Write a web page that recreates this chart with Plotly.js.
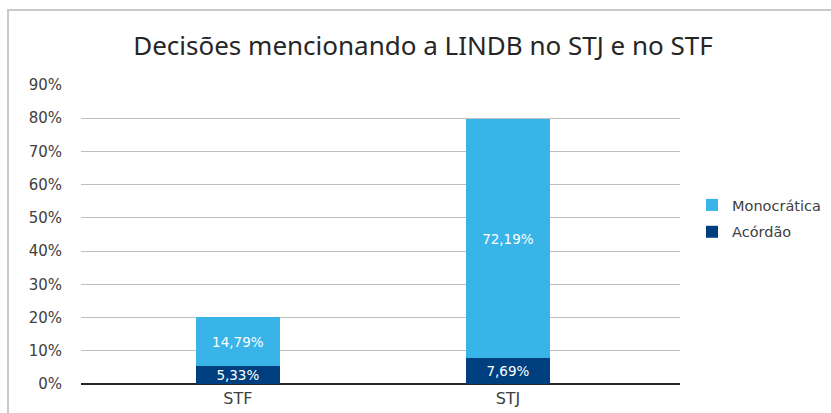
<!DOCTYPE html>
<html>
<head>
<meta charset="utf-8">
<script src="https://cdn.plot.ly/plotly-3.0.1.min.js"></script>
<style>
html,body{margin:0;padding:0;background:#fff;overflow:hidden;}
#wrap{position:relative;width:831px;height:413px;}
#frame{position:absolute;left:7px;top:9px;width:840px;height:420px;border-left:2px solid #c9c9c9;border-top:2px solid #c9c9c9;box-sizing:border-box;pointer-events:none;z-index:5;}
#chart{position:absolute;left:0;top:0;width:831px;height:413px;}
</style>
</head>
<body>
<div id="wrap">
<div id="chart"></div>
<div id="frame"></div>
</div>
<script>
const categories = ['STF', 'STJ'];
const acordao = [5.33, 7.69];
const monocratica = [14.79, 72.19];
const yTicks = [0, 10, 20, 30, 40, 50, 60, 70, 80, 90];

const fmt = v => v.toFixed(2).replace('.', ',') + '%';
const FONT = 'DejaVu Sans, sans-serif';
const TFONT = 'Noto Sans, sans-serif';

const traces = [
  {
    type: 'bar', name: 'Acórdão', x: categories, y: acordao,
    marker: {color: '#003f7f'}, width: 0.311,
    text: acordao.map(fmt), textposition: 'inside', insidetextanchor: 'middle',
    textfont: {color: '#ffffff', size: 13.5, family: FONT}, constraintext: 'none',
    hoverinfo: 'none', legendgroup: 'a', legendrank: 2
  },
  {
    type: 'bar', name: 'Monocrática', x: categories, y: monocratica,
    marker: {color: '#38b4e8'}, width: 0.311,
    text: monocratica.map(fmt), textposition: 'inside', insidetextanchor: 'middle',
    textfont: {color: '#ffffff', size: 13.5, family: FONT}, constraintext: 'none',
    hoverinfo: 'none', legendgroup: 'm', legendrank: 1
  }
];

const layout = {
  width: 831, height: 413,
  margin: {l: 81, r: 151, t: 85, b: 29, pad: 0, autoexpand: false},
  paper_bgcolor: '#ffffff', plot_bgcolor: '#ffffff',
  barmode: 'stack',
  font: {family: FONT, color: '#404040', size: 14},
  title: {
    text: 'Decisões mencionando a LINDB no STJ e no STF',
    font: {family: TFONT, size: 26, color: '#262626'},
    x: 0.509, xref: 'container', xanchor: 'center',
    y: 1 - 46/413, yref: 'container', yanchor: 'middle'
  },
  xaxis: {
    type: 'category', range: [-0.581, 1.637],
    showgrid: false, zeroline: false, showline: false, ticks: '',
    ticklabelstandoff: 3,
    tickfont: {family: FONT, size: 16, color: '#404040'}, fixedrange: true
  },
  yaxis: {
    range: [0, 90], tickvals: yTicks, ticktext: yTicks.map(v => v + '%'),
    showgrid: true, gridcolor: '#c0c0c0', gridwidth: 1,
    zeroline: true, zerolinecolor: '#262626', zerolinewidth: 2,
    showline: false, ticks: '', ticklabelstandoff: 18,
    tickfont: {family: FONT, size: 15, color: '#404040'}, fixedrange: true
  },
  legend: {
    xref: 'container', yref: 'container',
    x: 692/831, xanchor: 'left', y: 1 - 218.5/413, yanchor: 'middle',
    traceorder: 'grouped', tracegroupgap: 5,
    font: {family: FONT, size: 14.5, color: '#404040'},
    itemwidth: 30, bgcolor: 'rgba(0,0,0,0)'
  },
  showlegend: true
};

Plotly.newPlot('chart', traces, layout, {staticPlot: true, displayModeBar: false});
</script>
</body>
</html>
